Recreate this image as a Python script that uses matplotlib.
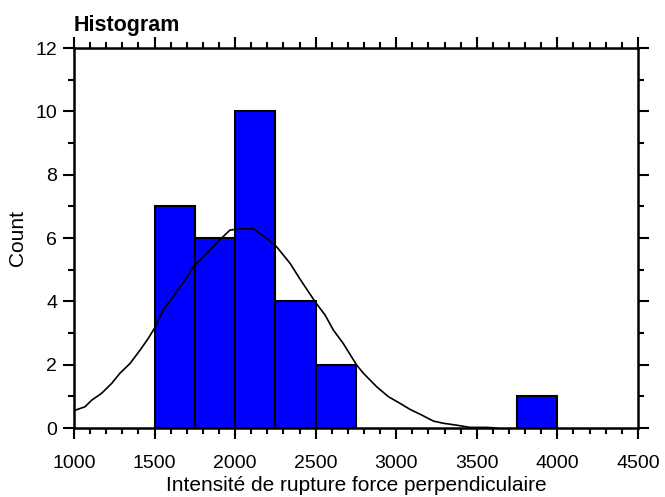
import numpy as np
import matplotlib.pyplot as plt
from matplotlib.ticker import MultipleLocator

# histogram bins (left edges, width 250) and counts
bin_left = [1500, 1750, 2000, 2250, 2500, 3750]
counts = [7, 6, 10, 4, 2, 1]
bin_width = 250

# fitted normal curve
curve_x = [1000, 1068, 1110, 1172, 1234, 1285, 1348, 1410, 1461, 1503, 1554,
           1616, 1689, 1740, 1824, 1906, 1968, 2030, 2113, 2196, 2258, 2341,
           2403, 2496, 2558, 2610, 2671, 2754, 2796, 2879, 2951, 3023, 3085,
           3158, 3230, 3292, 3375, 3457, 3561, 3623]
curve_y = [0.55, 0.67, 0.88, 1.10, 1.41, 1.73, 2.04, 2.46, 2.83, 3.18, 3.73,
           4.15, 4.67, 5.09, 5.52, 5.95, 6.25, 6.29, 6.29, 5.99, 5.72, 5.20,
           4.70, 3.99, 3.57, 3.09, 2.67, 1.99, 1.73, 1.30, 0.99, 0.78, 0.59,
           0.41, 0.22, 0.15, 0.09, 0.02, 0.02, 0.0]

plt.rcParams['font.family'] = ['Liberation Sans', 'DejaVu Sans']

fig = plt.figure(figsize=(6.65, 4.97), dpi=100)
ax = fig.add_axes([0.1113, 0.1388, 0.848, 0.7646])

ax.bar(bin_left, counts, width=bin_width, align='edge', color='#0000FF',
       edgecolor='black', linewidth=1.5, zorder=2)
ax.plot(curve_x, curve_y, color='black', linewidth=1.2, zorder=3)

ax.set_xlim(1000, 4500)
ax.set_ylim(0, 12)
ax.xaxis.set_major_locator(MultipleLocator(500))
ax.xaxis.set_minor_locator(MultipleLocator(100))
ax.yaxis.set_major_locator(MultipleLocator(2))
ax.yaxis.set_minor_locator(MultipleLocator(1))

for s in ax.spines.values():
    s.set_linewidth(1.8)

ax.tick_params(which='both', direction='out', top=True, right=True,
               width=1.5, labelsize=14)
ax.tick_params(which='major', length=8)
ax.tick_params(which='minor', length=4)
ax.tick_params(axis='x', pad=11.5)
ax.tick_params(axis='y', pad=4)

ax.set_xlabel('Intensité de rupture force perpendiculaire', fontsize=15, labelpad=3)
ax.set_ylabel('Count', fontsize=15, labelpad=6)
ax.set_title('Histogram', fontsize=15.5, fontweight='bold', loc='left', pad=12)
ax.title.set_position((-0.004, 1.0))

fig.savefig('out.png', dpi=100)
